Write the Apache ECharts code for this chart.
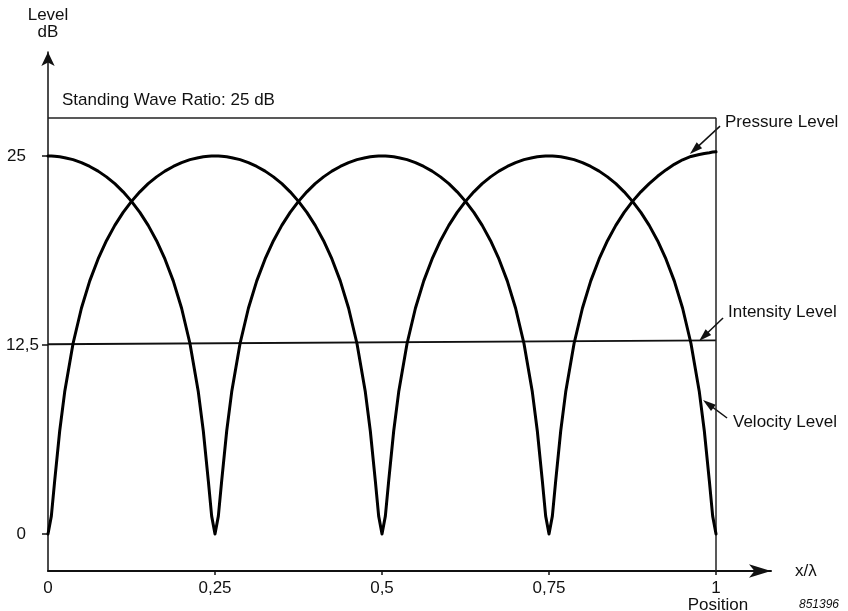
<!DOCTYPE html>
<html>
<head>
<meta charset="utf-8">
<title>Standing Wave Levels</title>
<script src="https://cdn.jsdelivr.net/npm/echarts@6.0.0/dist/echarts.min.js"></script>
<style>
  html, body { margin: 0; padding: 0; background: #ffffff; }
  #chart { width: 848px; height: 611px; }
</style>
</head>
<body>
<div id="chart"></div>
<script>
// Position along the tube, in wavelengths (x/λ)
const positions = [
  0, 0.005, 0.01, 0.0175, 0.025, 0.0375, 0.05, 0.0625, 0.075, 0.0875, 0.1, 0.1125,
  0.125, 0.1375, 0.15, 0.1625, 0.175, 0.1875, 0.2, 0.2125, 0.225, 0.2325, 0.24, 0.245,
  0.25, 0.255, 0.26, 0.2675, 0.275, 0.2875, 0.3, 0.3125, 0.325, 0.3375, 0.35, 0.3625,
  0.375, 0.3875, 0.4, 0.4125, 0.425, 0.4375, 0.45, 0.4625, 0.475, 0.4825, 0.49, 0.495,
  0.5, 0.505, 0.51, 0.5175, 0.525, 0.5375, 0.55, 0.5625, 0.575, 0.5875, 0.6, 0.6125,
  0.625, 0.6375, 0.65, 0.6625, 0.675, 0.6875, 0.7, 0.7125, 0.725, 0.7325, 0.74, 0.745,
  0.75, 0.755, 0.76, 0.7675, 0.775, 0.7875, 0.8, 0.8125, 0.825, 0.8375, 0.85, 0.8625,
  0.875, 0.8875, 0.9, 0.9125, 0.925, 0.9375, 0.95, 0.9625, 0.975, 0.9825, 0.99, 0.995,
  1
];

// Sound pressure level (dB): maxima at 0, 0.5, 1 and nulls at 0.25, 0.75
const pressureLevel = [
  25.0, 25.0, 24.98, 24.95, 24.89, 24.76, 24.56, 24.31, 24.0, 23.62, 23.17, 22.63,
  22.0, 21.27, 20.41, 19.4, 18.19, 16.74, 14.93, 12.6, 9.4, 6.81, 3.51, 1.18,
  0, 1.18, 3.51, 6.81, 9.4, 12.6, 14.93, 16.74, 18.19, 19.4, 20.41, 21.27,
  22.0, 22.63, 23.17, 23.62, 24.0, 24.31, 24.56, 24.76, 24.89, 24.95, 24.98, 25.0,
  25.0, 25.0, 24.98, 24.95, 24.89, 24.76, 24.56, 24.31, 24.0, 23.62, 23.17, 22.63,
  22.0, 21.27, 20.41, 19.4, 18.19, 16.74, 14.93, 12.6, 9.4, 6.81, 3.51, 1.18,
  0, 1.18, 3.51, 6.81, 9.4, 12.6, 14.93, 16.74, 18.19, 19.4, 20.41, 21.27,
  22.0, 22.63, 23.17, 23.66, 24.08, 24.45, 24.75, 24.97, 25.1, 25.17, 25.22, 25.26,
  25.28
];

// Particle velocity level (dB): nulls at 0, 0.5, 1 and maxima at 0.25, 0.75
const velocityLevel = [
  0, 1.18, 3.51, 6.81, 9.4, 12.6, 14.93, 16.74, 18.19, 19.4, 20.41, 21.27,
  22.0, 22.63, 23.17, 23.62, 24.0, 24.31, 24.56, 24.76, 24.89, 24.95, 24.98, 25.0,
  25.0, 25.0, 24.98, 24.95, 24.89, 24.76, 24.56, 24.31, 24.0, 23.62, 23.17, 22.63,
  22.0, 21.27, 20.41, 19.4, 18.19, 16.74, 14.93, 12.6, 9.4, 6.81, 3.51, 1.18,
  0, 1.18, 3.51, 6.81, 9.4, 12.6, 14.93, 16.74, 18.19, 19.4, 20.41, 21.27,
  22.0, 22.63, 23.17, 23.62, 24.0, 24.31, 24.56, 24.76, 24.89, 24.95, 24.98, 25.0,
  25.0, 25.0, 24.98, 24.95, 24.89, 24.76, 24.56, 24.31, 24.0, 23.62, 23.17, 22.63,
  22.0, 21.27, 20.41, 19.4, 18.19, 16.74, 14.93, 12.6, 9.4, 6.81, 3.51, 1.18,
  0
];

// Sound intensity level (dB), constant along the tube
const intensityPositions = [0, 1];
const intensityLevel = [12.55, 12.8];

// Axis ticks
const xTickValues = [0, 0.25, 0.5, 0.75, 1];
const xTickLabels = ['0', '0,25', '0,5', '0,75', '1'];
const yTickValues = [0, 12.5, 25];
const yTickLabels = ['0', '12,5', '25'];

// Axis extents (the axes run past the data and end in arrows)
const xMin = 0, xMax = 1.0823;
const yMin = -2.45, yMax = 31.88;
// Level of the frame's top edge
const frameLevel = 27.53;

// Callout arrows: tail near the label, head on the curve
const callouts = {
  pressure:  { tail: [1.006, 26.98], head: [0.968, 25.42] },
  intensity: { tail: [1.0105, 14.29], head: [0.9816, 13.06] },
  velocity:  { tail: [1.0165, 7.67], head: [0.9883, 8.60] }
};

const FONT_FAMILY = '"Liberation Sans", Arial, Helvetica, sans-serif';
const INK = '#111111';

const pairs = (xs, ys) => xs.map((x, i) => [x, ys[i]]);
const labelFor = (values, labels) => v => {
  const i = values.findIndex(t => Math.abs(t - v) < 1e-9);
  return i < 0 ? '' : labels[i];
};

function calloutLine(c) {
  return {
    silent: true,
    animation: false,
    label: { show: false },
    lineStyle: { color: INK, width: 1.5, type: 'solid' },
    data: [[
      { coord: c.tail, symbol: 'none' },
      { coord: c.head, symbol: 'triangle', symbolSize: [8, 13] }
    ]]
  };
}

const chart = echarts.init(document.getElementById('chart'), null, { renderer: 'canvas' });

const xLabel = labelFor(xTickValues, xTickLabels);
const yLabel = labelFor(yTickValues, yTickLabels);

chart.setOption({
  animation: false,
  backgroundColor: '#ffffff',
  textStyle: { fontFamily: FONT_FAMILY, color: INK },
  grid: { left: 48, right: 77, top: 52, bottom: 40, containLabel: false },
  xAxis: {
    type: 'value',
    min: xMin,
    max: xMax,
    name: 'x/λ',
    nameLocation: 'end',
    nameGap: 24,
    nameTextStyle: { fontSize: 17, color: INK, fontFamily: FONT_FAMILY, verticalAlign: 'middle' },
    axisLine: {
      show: true,
      onZero: false,
      symbol: ['none', 'arrow'],
      symbolSize: [10, 22],
      lineStyle: { color: INK, width: 2 }
    },
    axisTick: { show: true, customValues: xTickValues.slice(1), length: 4, lineStyle: { color: INK, width: 1.5 } },
    axisLabel: {
      customValues: xTickValues,
      formatter: xLabel,
      fontSize: 17,
      color: INK,
      fontFamily: FONT_FAMILY,
      margin: 9
    },
    splitLine: { show: false }
  },
  yAxis: {
    type: 'value',
    min: yMin,
    max: yMax,
    name: 'Level\ndB',
    nameLocation: 'end',
    nameGap: 11,
    nameTextStyle: { fontSize: 17, lineHeight: 17, color: INK, fontFamily: FONT_FAMILY, align: 'center' },
    axisLine: {
      show: true,
      onZero: false,
      symbol: ['none', 'arrow'],
      symbolSize: [10, 14],
      lineStyle: { color: INK, width: 1.5 }
    },
    axisTick: { show: true, customValues: yTickValues, length: 6, lineStyle: { color: INK, width: 1.5 } },
    axisLabel: {
      customValues: yTickValues,
      formatter: v => {
        const t = yLabel(v);
        return t.length > 2 ? '{w|' + t + '}' : '{n|' + t + '}';
      },
      align: 'left',
      margin: 40,
      rich: {
        n: { width: 18, align: 'right', fontSize: 17, color: INK, fontFamily: FONT_FAMILY },
        w: { width: 31, align: 'right', fontSize: 17, color: INK, fontFamily: FONT_FAMILY }
      }
    },
    splitLine: { show: false }
  },
  series: [
    {
      name: 'Pressure Level',
      type: 'line',
      data: pairs(positions, pressureLevel),
      symbol: 'none',
      showSymbol: false,
      silent: true,
      z: 5,
      lineStyle: { color: '#000000', width: 3, join: 'round', cap: 'round' },
      markLine: calloutLine(callouts.pressure)
    },
    {
      name: 'Velocity Level',
      type: 'line',
      data: pairs(positions, velocityLevel),
      symbol: 'none',
      showSymbol: false,
      silent: true,
      z: 5,
      lineStyle: { color: '#000000', width: 3, join: 'round', cap: 'round' },
      markLine: calloutLine(callouts.velocity)
    },
    {
      name: 'Intensity Level',
      type: 'line',
      data: pairs(intensityPositions, intensityLevel),
      symbol: 'none',
      showSymbol: false,
      silent: true,
      z: 4,
      lineStyle: { color: INK, width: 1.8 },
      markLine: {
        silent: true,
        animation: false,
        label: { show: false },
        lineStyle: { color: '#222222', width: 1.5, type: 'solid' },
        data: [
          // frame: top edge and right edge at x/λ = 1
          [{ coord: [0, frameLevel], symbol: 'none' }, { coord: [1, frameLevel], symbol: 'none' }],
          [{ coord: [1, frameLevel], symbol: 'none' }, { coord: [1, yMin], symbol: 'none' }],
          // callout arrow for the intensity line
          [{ coord: callouts.intensity.tail, symbol: 'none', lineStyle: { color: INK, width: 1.5 } },
           { coord: callouts.intensity.head, symbol: 'triangle', symbolSize: [8, 13] }]
        ]
      }
    }
  ],
  graphic: [
    { type: 'text', x: 62, y: 100, style: { text: 'Standing Wave Ratio: 25 dB', font: '17px ' + FONT_FAMILY, fill: INK, verticalAlign: 'middle' } },
    { type: 'text', x: 725, y: 122, style: { text: 'Pressure Level', font: '17px ' + FONT_FAMILY, fill: INK, verticalAlign: 'middle' } },
    { type: 'text', x: 728, y: 312, style: { text: 'Intensity Level', font: '17px ' + FONT_FAMILY, fill: INK, verticalAlign: 'middle' } },
    { type: 'text', x: 733, y: 422, style: { text: 'Velocity Level', font: '17px ' + FONT_FAMILY, fill: INK, verticalAlign: 'middle' } },
    { type: 'text', x: 718, y: 605, style: { text: 'Position', font: '17px ' + FONT_FAMILY, fill: INK, align: 'center', verticalAlign: 'middle' } },
    { type: 'text', x: 799, y: 605, style: { text: '851396', font: 'italic 12px ' + FONT_FAMILY, fill: INK, verticalAlign: 'middle' } }
  ]
});
</script>
</body>
</html>
